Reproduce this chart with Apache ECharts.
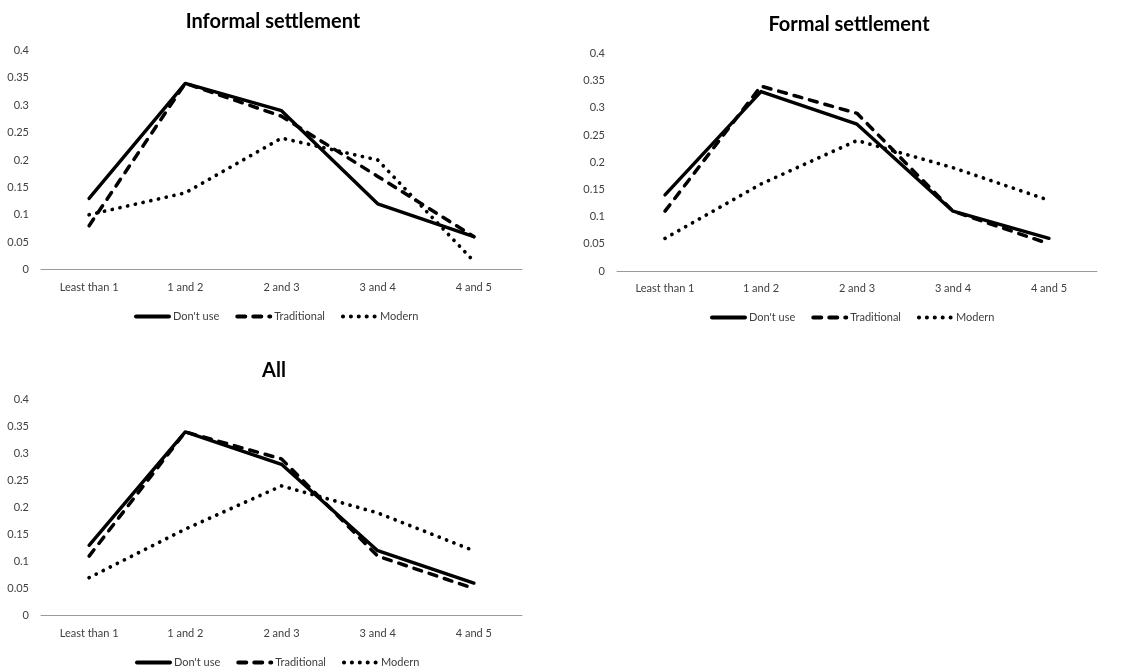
<!DOCTYPE html>
<html>
<head>
<meta charset="utf-8">
<script src="https://cdn.jsdelivr.net/npm/echarts@6/dist/echarts.min.js"></script>
<style>
html,body{margin:0;padding:0;background:#fff;}
#c{width:1135px;height:671px;}
</style>
</head>
<body>
<div id="c"></div>
<script>
const categories = ['Least than 1', '1 and 2', '2 and 3', '3 and 4', '4 and 5'];
const seriesNames = ["Don't use", 'Traditional', 'Modern'];
const yTicks = [0, 0.05, 0.1, 0.15, 0.2, 0.25, 0.3, 0.35, 0.4];

const informalDontUse = [0.13, 0.34, 0.29, 0.12, 0.06];
const informalTraditional = [0.08, 0.34, 0.28, 0.17, 0.06];
const informalModern = [0.10, 0.14, 0.24, 0.20, 0.015];

const formalDontUse = [0.14, 0.33, 0.27, 0.11, 0.06];
const formalTraditional = [0.11, 0.34, 0.29, 0.11, 0.05];
const formalModern = [0.06, 0.16, 0.24, 0.19, 0.13];

const allDontUse = [0.13, 0.34, 0.28, 0.12, 0.06];
const allTraditional = [0.11, 0.34, 0.29, 0.11, 0.05];
const allModern = [0.07, 0.16, 0.24, 0.19, 0.12];

const panels = [
  { title: 'Informal settlement', data: [informalDontUse, informalTraditional, informalModern],
    grid: { left: 41, top: 50.5, width: 481, height: 219 }, titlePos: [268, 7], legendPos: [134, 311] },
  { title: 'Formal settlement', data: [formalDontUse, formalTraditional, formalModern],
    grid: { left: 617, top: 53.5, width: 480, height: 217.5 }, titlePos: [844, 10], legendPos: [710, 312] },
  { title: 'All', data: [allDontUse, allTraditional, allModern],
    grid: { left: 41, top: 399.5, width: 481, height: 216 }, titlePos: [269, 356], legendPos: [135, 657] }
];

const FONT = 'Lato';
const TXT = '#404040';
const lineStyles = [
  { color: '#000', width: 3.4, type: 'solid', cap: 'round', join: 'round' },
  { color: '#000', width: 3.5, type: [8, 8], cap: 'round', join: 'round' },
  { color: '#000', width: 3.7, type: [0.1, 7.8], cap: 'round', join: 'round' }
];

const option = {
  backgroundColor: '#fff',
  animation: false,
  title: [], grid: [], xAxis: [], yAxis: [], legend: [], series: []
};

panels.forEach((p, i) => {
  option.title.push({
    text: p.title, left: p.titlePos[0], top: p.titlePos[1], textAlign: 'center',
    textStyle: { fontFamily: FONT, fontWeight: 'bold', fontSize: 20, color: '#000' }
  });
  option.grid.push(Object.assign({ containLabel: false }, p.grid));
  option.xAxis.push({
    type: 'category', gridIndex: i, data: categories, boundaryGap: true,
    axisLine: { lineStyle: { color: '#9a9a9a', width: 1 } },
    axisTick: { show: false },
    axisLabel: { fontFamily: FONT, fontSize: 11, color: TXT, margin: 12 }
  });
  option.yAxis.push({
    type: 'value', gridIndex: i, min: 0, max: 0.4, interval: 0.05,
    axisLine: { show: false }, axisTick: { show: false }, splitLine: { show: false },
    axisLabel: { fontFamily: FONT, fontSize: 11, color: TXT, margin: 12,
      formatter: v => String(parseFloat(v.toFixed(2))) }
  });
  option.legend.push({
    left: p.legendPos[0], top: p.legendPos[1], padding: 0,
    itemWidth: 33, itemHeight: 14, itemGap: 16,
    data: seriesNames,
    itemStyle: { opacity: 0 },
    lineStyle: { width: 4 },
    textStyle: { fontFamily: FONT, fontSize: 11, color: TXT, padding: [0, 0, 0, -1] }
  });
  p.data.forEach((vals, k) => {
    option.series.push({
      type: 'line', name: seriesNames[k], xAxisIndex: i, yAxisIndex: i,
      data: vals, symbol: 'none', color: '#000', itemStyle: { color: '#000' },
      lineStyle: lineStyles[k], z: 3 - k
    });
  });
});

const chart = echarts.init(document.getElementById('c'), null, { renderer: 'canvas' });
chart.setOption(option);
</script>
</body>
</html>
